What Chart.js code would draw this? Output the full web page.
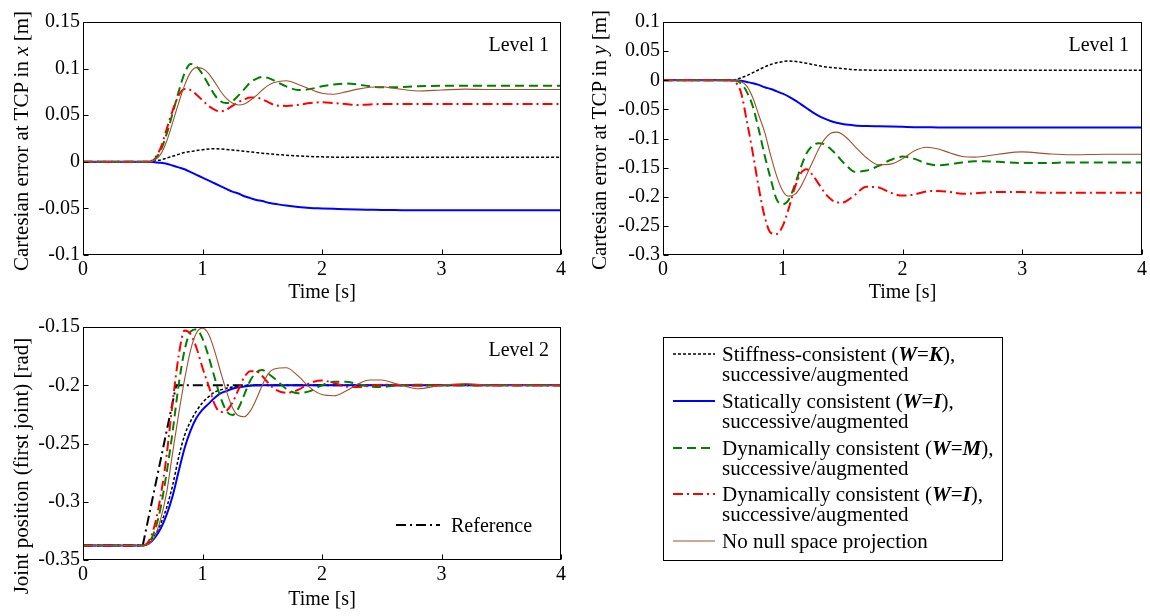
<!DOCTYPE html>
<html>
<head>
<meta charset="utf-8">
<script src="https://cdn.jsdelivr.net/npm/chart.js@4.4.1/dist/chart.umd.min.js"></script>
<style>
  html,body{margin:0;padding:0;background:#fff;}
  body{width:1150px;height:616px;position:relative;overflow:hidden;font-family:"Liberation Serif","Times New Roman",serif;color:#000;}
  canvas{position:absolute;}
  .ytitle{position:absolute;width:320px;height:24px;line-height:24px;text-align:center;white-space:nowrap;font-size:21px;transform:rotate(-90deg);transform-origin:50% 50%;}
  .lvl{position:absolute;width:120px;height:24px;line-height:24px;text-align:right;font-size:20px;white-space:nowrap;}
  #legend{position:absolute;left:663px;top:337px;width:340px;height:224px;border:1px solid #000;box-sizing:border-box;background:#fff;}
  .lrow{position:absolute;left:58px;height:20px;line-height:20px;font-size:21px;white-space:nowrap;}
  .lsw{position:absolute;left:9px;width:42px;height:20px;}
  .bi{font-weight:bold;font-style:italic;}
</style>
</head>
<body>
<canvas id="ch1" width="575" height="306" style="left:0px;top:0px"></canvas>
<canvas id="ch2" width="560" height="306" style="left:590px;top:0px"></canvas>
<canvas id="ch3" width="575" height="310" style="left:0px;top:306px"></canvas>

<div class="ytitle" style="left:-139px;top:129px">Cartesian error at TCP in <i>x</i> [m]</div>
<div class="ytitle" style="left:439px;top:128px">Cartesian error at TCP in <i>y</i> [m]</div>
<div class="ytitle" style="left:-139px;top:454px">Joint position (first joint) [rad]</div>

<div class="lvl" style="left:429px;top:32px">Level 1</div>
<div class="lvl" style="left:1009px;top:32px">Level 1</div>
<div class="lvl" style="left:429px;top:337px">Level 2</div>

<svg style="position:absolute;left:396px;top:515px" width="46" height="20"><line x1="0" y1="10" x2="44" y2="10" stroke="#000" stroke-width="2" stroke-dasharray="10,4,2,4"/></svg>
<div style="position:absolute;left:451px;top:513px;height:24px;line-height:24px;font-size:20px;white-space:nowrap">Reference</div>

<div id="legend">
  <svg class="lsw" style="top:6px" width="42" height="20"><line x1="0" y1="10" x2="42" y2="10" stroke="#000" stroke-width="1.5" stroke-dasharray="3,2"/></svg>
  <div class="lrow" style="top:6px">Stiffness-consistent (<span class="bi">W</span>=<span class="bi">K</span>),</div>
  <div class="lrow" style="top:26px">successive/augmented</div>
  <svg class="lsw" style="top:53px" width="42" height="20"><line x1="0" y1="10" x2="42" y2="10" stroke="#0000ff" stroke-width="2"/></svg>
  <div class="lrow" style="top:53px">Statically consistent (<span class="bi">W</span>=<span class="bi">I</span>),</div>
  <div class="lrow" style="top:73px">successive/augmented</div>
  <svg class="lsw" style="top:100px" width="42" height="20"><line x1="0" y1="10" x2="42" y2="10" stroke="#008000" stroke-width="2" stroke-dasharray="9,5"/></svg>
  <div class="lrow" style="top:100px">Dynamically consistent (<span class="bi">W</span>=<span class="bi">M</span>),</div>
  <div class="lrow" style="top:120px">successive/augmented</div>
  <svg class="lsw" style="top:146px" width="42" height="20"><line x1="0" y1="10" x2="42" y2="10" stroke="#ff0000" stroke-width="2" stroke-dasharray="10,4,2,4"/></svg>
  <div class="lrow" style="top:146px">Dynamically consistent (<span class="bi">W</span>=<span class="bi">I</span>),</div>
  <div class="lrow" style="top:166px">successive/augmented</div>
  <svg class="lsw" style="top:193px" width="42" height="20"><line x1="0" y1="10" x2="42" y2="10" stroke="#a0522d" stroke-width="1.2"/></svg>
  <div class="lrow" style="top:193px">No null space projection</div>
</div>

<script>
// ---------------- data ----------------
const T = [0, 0.5, 0.55, 0.6, 0.65, 0.7, 0.75, 0.8, 0.85, 0.9, 0.95, 1.0, 1.05, 1.1, 1.15, 1.2, 1.25, 1.3, 1.35, 1.4,
           1.45, 1.5, 1.55, 1.6, 1.7, 1.8, 1.9, 2.0, 2.1, 2.2, 2.3, 2.4, 2.5, 2.6, 2.8, 3.0, 3.2, 3.4, 3.7, 4.0];

const seriesNames = [
  "Stiffness-consistent (W=K), successive/augmented",
  "Statically consistent (W=I), successive/augmented",
  "Dynamically consistent (W=M), successive/augmented",
  "Dynamically consistent (W=I), successive/augmented",
  "No null space projection"
];

// Level 1: Cartesian error in x [m]
const xK    = [0,0,0,0.001,0.002,0.004,0.006,0.008,0.010,0.011,0.012,0.013,0.0137,0.014,0.0138,0.0133,0.0127,0.012,0.0113,0.0106,
               0.0099,0.0092,0.0086,0.008,0.0071,0.0063,0.0057,0.0053,0.005,0.005,0.005,0.005,0.005,0.005,0.005,0.005,0.005,0.005,0.005,0.005];
const xI    = [0,0,0,-0.0005,-0.001,-0.002,-0.004,-0.006,-0.008,-0.011,-0.014,-0.017,-0.020,-0.023,-0.026,-0.029,-0.032,-0.034,-0.037,-0.039,
               -0.041,-0.042,-0.044,-0.045,-0.047,-0.0485,-0.0495,-0.050,-0.0505,-0.051,-0.0513,-0.0515,-0.0517,-0.0518,-0.052,-0.052,-0.052,-0.052,-0.052,-0.052];
const xM    = [0,0,0,0.003,0.012,0.03,0.052,0.075,0.095,0.105,0.102,0.094,0.083,0.072,0.065,0.063,0.065,0.071,0.078,0.085,
               0.089,0.091,0.09,0.087,0.081,0.077,0.078,0.081,0.083,0.084,0.083,0.081,0.080,0.080,0.081,0.0815,0.0815,0.0815,0.0815,0.0815];
const xIdyn = [0,0,0,0.004,0.015,0.035,0.055,0.071,0.078,0.077,0.072,0.066,0.06,0.056,0.054,0.056,0.06,0.064,0.067,0.069,
               0.069,0.067,0.064,0.061,0.060,0.061,0.063,0.064,0.063,0.062,0.061,0.0615,0.062,0.062,0.062,0.062,0.062,0.062,0.062,0.062];
const xNone = [0,0,0,0.002,0.008,0.022,0.042,0.063,0.082,0.096,0.101,0.1,0.095,0.086,0.076,0.068,0.063,0.061,0.062,0.066,
               0.071,0.077,0.082,0.085,0.087,0.083,0.078,0.0735,0.0725,0.075,0.078,0.080,0.0805,0.079,0.076,0.077,0.078,0.0775,0.0775,0.0775];

// Level 1: Cartesian error in y [m]
const yK    = [0,0,0,0.001,0.004,0.008,0.013,0.018,0.023,0.027,0.030,0.032,0.033,0.0325,0.031,0.029,0.027,0.025,0.023,0.022,
               0.021,0.020,0.019,0.018,0.0175,0.017,0.017,0.017,0.017,0.017,0.017,0.017,0.017,0.017,0.017,0.017,0.017,0.017,0.017,0.017];
const yI    = [0,0,0,-0.0005,-0.001,-0.003,-0.005,-0.008,-0.012,-0.015,-0.019,-0.023,-0.028,-0.034,-0.041,-0.048,-0.055,-0.061,-0.066,-0.07,
               -0.073,-0.075,-0.0765,-0.0775,-0.0785,-0.079,-0.0795,-0.080,-0.0805,-0.0807,-0.081,-0.081,-0.081,-0.081,-0.081,-0.081,-0.081,-0.081,-0.081,-0.081];
const yM    = [0,0,0,0,-0.005,-0.02,-0.045,-0.085,-0.13,-0.17,-0.205,-0.213,-0.205,-0.18,-0.15,-0.125,-0.112,-0.108,-0.11,-0.118,
               -0.128,-0.14,-0.15,-0.157,-0.155,-0.147,-0.137,-0.131,-0.135,-0.143,-0.146,-0.144,-0.141,-0.139,-0.14,-0.142,-0.142,-0.141,-0.141,-0.141];
const yIdyn = [0,0,0,-0.003,-0.02,-0.07,-0.125,-0.185,-0.235,-0.262,-0.264,-0.25,-0.22,-0.185,-0.16,-0.153,-0.163,-0.178,-0.193,-0.204,
               -0.21,-0.21,-0.205,-0.197,-0.183,-0.184,-0.193,-0.198,-0.196,-0.191,-0.19,-0.192,-0.195,-0.194,-0.192,-0.192,-0.193,-0.193,-0.193,-0.193];
const yNone = [0,0,0,0,-0.002,-0.01,-0.03,-0.06,-0.09,-0.13,-0.165,-0.19,-0.199,-0.196,-0.183,-0.162,-0.14,-0.118,-0.101,-0.091,
               -0.089,-0.093,-0.102,-0.113,-0.133,-0.145,-0.144,-0.135,-0.121,-0.115,-0.118,-0.125,-0.131,-0.132,-0.127,-0.123,-0.126,-0.128,-0.127,-0.127];

// Level 2: joint position (first joint) [rad]
const qK    = [-0.3375,-0.3375,-0.335,-0.329,-0.319,-0.305,-0.286,-0.262,-0.243,-0.231,-0.222,-0.215,-0.21,-0.206,-0.204,-0.2025,-0.2015,-0.201,-0.2003,-0.2,
               -0.2,-0.2,-0.2,-0.2,-0.2,-0.2,-0.2,-0.2,-0.2,-0.2,-0.2,-0.2,-0.2,-0.2,-0.2,-0.2,-0.2,-0.2,-0.2,-0.2];
const qI    = [-0.3375,-0.3375,-0.336,-0.331,-0.323,-0.311,-0.295,-0.274,-0.254,-0.239,-0.228,-0.221,-0.216,-0.211,-0.207,-0.205,-0.203,-0.2018,-0.201,-0.2005,
               -0.2,-0.2,-0.2,-0.2,-0.2,-0.2,-0.2,-0.2,-0.2,-0.2,-0.2,-0.2,-0.2,-0.2,-0.2,-0.2,-0.2,-0.2,-0.2,-0.2];
const qM    = [-0.3375,-0.3375,-0.335,-0.325,-0.305,-0.275,-0.24,-0.2,-0.17,-0.154,-0.152,-0.16,-0.175,-0.193,-0.21,-0.222,-0.2255,-0.22,-0.208,-0.196,
               -0.189,-0.187,-0.19,-0.194,-0.203,-0.2068,-0.205,-0.2,-0.197,-0.197,-0.199,-0.201,-0.2015,-0.2005,-0.1995,-0.2,-0.2,-0.2,-0.2,-0.2];
const qIdyn = [-0.3375,-0.3375,-0.334,-0.32,-0.295,-0.26,-0.215,-0.175,-0.153,-0.156,-0.168,-0.185,-0.2,-0.216,-0.223,-0.222,-0.215,-0.204,-0.193,-0.188,
               -0.188,-0.192,-0.198,-0.203,-0.2065,-0.204,-0.198,-0.196,-0.198,-0.201,-0.2015,-0.2005,-0.1995,-0.1995,-0.2003,-0.2,-0.1998,-0.2,-0.2,-0.2];
const qNone = [-0.3375,-0.3375,-0.336,-0.33,-0.315,-0.292,-0.258,-0.225,-0.195,-0.17,-0.155,-0.151,-0.156,-0.17,-0.188,-0.205,-0.219,-0.226,-0.227,-0.222,
               -0.212,-0.2,-0.19,-0.186,-0.185,-0.192,-0.202,-0.208,-0.209,-0.205,-0.199,-0.1955,-0.1955,-0.198,-0.203,-0.2,-0.1985,-0.2,-0.2,-0.2];
const refT  = [0, 0.5, 0.78, 4];
const refQ  = [-0.3375, -0.3375, -0.2, -0.2];

// tick values and labels
const xTicks  = [0, 1, 2, 3, 4];
const xLabels = ["0", "1", "2", "3", "4"];
const y1Ticks  = [-0.1, -0.05, 0, 0.05, 0.1, 0.15];
const y1Labels = ["-0.1", "-0.05", "0", "0.05", "0.1", "0.15"];
const y2Ticks  = [-0.3, -0.25, -0.2, -0.15, -0.1, -0.05, 0, 0.05, 0.1];
const y2Labels = ["-0.3", "-0.25", "-0.2", "-0.15", "-0.1", "-0.05", "0", "0.05", "0.1"];
const y3Ticks  = [-0.35, -0.3, -0.25, -0.2, -0.15];
const y3Labels = ["-0.35", "-0.3", "-0.25", "-0.2", "-0.15"];

// ---------------- styles ----------------
const STY = [
  {color:'#000000', width:1.5, dash:[3,2]},
  {color:'#0000ff', width:2,   dash:[]},
  {color:'#008000', width:2,   dash:[9,5]},
  {color:'#ff0000', width:2,   dash:[10,4,2,4]},
  {color:'#a0522d', width:1.1, dash:[]}
];
const FONT = {family:'"Liberation Serif", "Times New Roman", serif', size:20};

function pts(xs, ys){ return xs.map((x,i)=>({x:x, y:ys[i]})); }

function ds(i, ys){
  return {label:seriesNames[i], data:pts(T, ys), borderColor:STY[i].color, borderWidth:STY[i].width,
          borderDash:STY[i].dash, pointRadius:0, fill:false, cubicInterpolationMode:'monotone', order:5-i};
}

const boxPlugin = {
  id:'boxTicks',
  afterDatasetsDraw(chart){
    const {ctx, chartArea:a, scales} = chart;
    ctx.save();
    ctx.strokeStyle = '#000'; ctx.lineWidth = 1; ctx.setLineDash([]);
    const L = Math.round(a.left)+0.5, R = Math.round(a.right)-0.5, Tp = Math.round(a.top)+0.5, B = Math.round(a.bottom)-0.5;
    ctx.strokeRect(L, Tp, R-L, B-Tp);
    ctx.beginPath();
    scales.x.ticks.forEach(t=>{ const px = Math.round(scales.x.getPixelForValue(t.value))+0.5; ctx.moveTo(px,B); ctx.lineTo(px,B-5); });
    scales.y.ticks.forEach(t=>{ const py = Math.round(scales.y.getPixelForValue(t.value))+0.5; ctx.moveTo(L,py); ctx.lineTo(L+5,py); });
    ctx.stroke();
    ctx.restore();
  }
};

function makeChart(id, datasets, opt){
  return new Chart(document.getElementById(id), {
    type:'line',
    data:{datasets:datasets},
    plugins:[boxPlugin],
    options:{
      responsive:false, animation:false, devicePixelRatio:1,
      layout:{padding:{top:opt.padTop, right:opt.padRight, left:0, bottom:0}},
      plugins:{legend:{display:false}, tooltip:{enabled:false}, title:{display:false}},
      scales:{
        x:{type:'linear', min:0, max:4,
           afterBuildTicks(s){ s.ticks = xTicks.map(v=>({value:v})); },
           ticks:{font:FONT, color:'#000', padding:3, maxRotation:0, autoSkip:false, callback:(v,i)=>xLabels[i]},
           grid:{display:false, drawTicks:false}, border:{display:false},
           title:{display:true, text:'Time [s]', font:FONT, color:'#000', padding:{top:0, bottom:opt.titlePad}},
           afterFit(s){ s.height = opt.xH; }},
        y:{type:'linear', min:opt.ymin, max:opt.ymax,
           afterBuildTicks(s){ s.ticks = opt.yTicks.map(v=>({value:v})); },
           ticks:{font:FONT, color:'#000', padding:3, autoSkip:false, callback:(v,i)=>opt.yLabels[i]},
           grid:{display:false, drawTicks:false}, border:{display:false},
           afterFit(s){ s.width = opt.yW; }}
      }
    }
  });
}

makeChart('ch1', [ds(0,xK), ds(1,xI), ds(2,xM), ds(3,xIdyn), ds(4,xNone)],
  {padTop:22, padRight:14, xH:51, yW:83, titlePad:1, ymin:-0.1, ymax:0.15, yTicks:y1Ticks, yLabels:y1Labels});

makeChart('ch2', [ds(0,yK), ds(1,yI), ds(2,yM), ds(3,yIdyn), ds(4,yNone)],
  {padTop:22, padRight:8, xH:51, yW:73, titlePad:1, ymin:-0.3, ymax:0.1, yTicks:y2Ticks, yLabels:y2Labels});

makeChart('ch3', [
    {label:'Reference', data:pts(refT, refQ), borderColor:'#000', borderWidth:2, borderDash:[10,4,2,4], pointRadius:0, fill:false, tension:0, order:6},
    ds(0,qK), ds(1,qI), ds(2,qM), ds(3,qIdyn), ds(4,qNone)],
  {padTop:21, padRight:14, xH:56, yW:83, titlePad:4, ymin:-0.35, ymax:-0.15, yTicks:y3Ticks, yLabels:y3Labels});
</script>
</body>
</html>
